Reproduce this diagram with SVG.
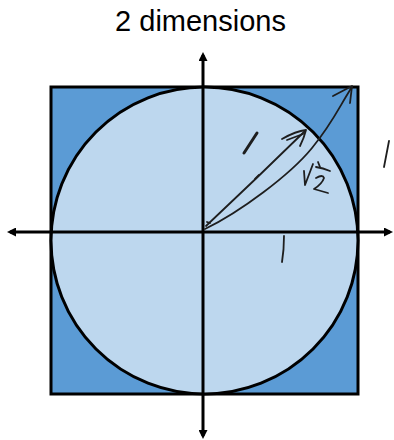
<svg xmlns="http://www.w3.org/2000/svg" width="394" height="440" viewBox="0 0 394 440">
<style>
.title{font-family:"Liberation Sans",Arial,sans-serif;font-size:29px;fill:#000}
.axis{stroke:#000;stroke-width:3;fill:none}
.ink{stroke:#1e1e1e;stroke-width:1.8;fill:none;stroke-linecap:round;stroke-linejoin:round}
.inkb{stroke:#1e1e1e;stroke-width:3;fill:none;stroke-linecap:round}
</style>
<defs>
<marker id="ah" viewBox="0 0 10 10" refX="6.7" refY="5" markerWidth="9" markerHeight="9" markerUnits="userSpaceOnUse" orient="auto">
<path d="M0,0 L10,5 L0,10 z" fill="#000"/>
</marker>
</defs>
<rect width="394" height="440" fill="#fff"/>
<text class="title" x="200.5" y="31" text-anchor="middle">2 dimensions</text>
<g id="square">
<rect x="51" y="87" width="307" height="307" fill="#5b9bd5" stroke="#000" stroke-width="3"/>
</g>
<g id="circle">
<circle cx="204.5" cy="240.5" r="153.5" fill="#bdd7ee" stroke="#000" stroke-width="3"/>
</g>
<g id="connectors">
<line class="axis" x1="203" y1="232" x2="390" y2="232" marker-end="url(#ah)"/>
<line class="axis" x1="203" y1="232" x2="10" y2="232" marker-end="url(#ah)"/>
<line class="axis" x1="203" y1="232" x2="203" y2="55" marker-end="url(#ah)"/>
<line class="axis" x1="203" y1="232" x2="203" y2="436" marker-end="url(#ah)"/>
</g>
<g id="annotations">
<path class="ink" d="M206,226 Q255,180 305,131"/>
<path class="ink" d="M282,139 Q296,131 306,130 Q304,138 300,146"/>
<path class="ink" d="M287,140 L303,134"/>
<path class="ink" d="M255,179 L259,175"/>
<path class="ink" d="M207,222 L210,223"/>
<path class="ink" d="M205,229 C240,212 290,175 312,148 S340,105 352,87"/>
<path class="ink" d="M333,96 L352,86 L350,103"/>
<path class="inkb" d="M257,133 L244,153"/>
<path class="ink" d="M389,141 L384,167"/>
<path class="ink" d="M284,236 Q284,250 282,262"/>
<path class="ink" d="M304,171 L305,185 L313,164"/>
<path class="ink" d="M316,167 Q323,168 330,171"/>
<path class="ink" d="M318,162 L320,167"/>
<path class="ink" d="M316,178 Q323,174 324,178 Q322,184 314,189 Q321,191 328,193"/>
</g>
</svg>
